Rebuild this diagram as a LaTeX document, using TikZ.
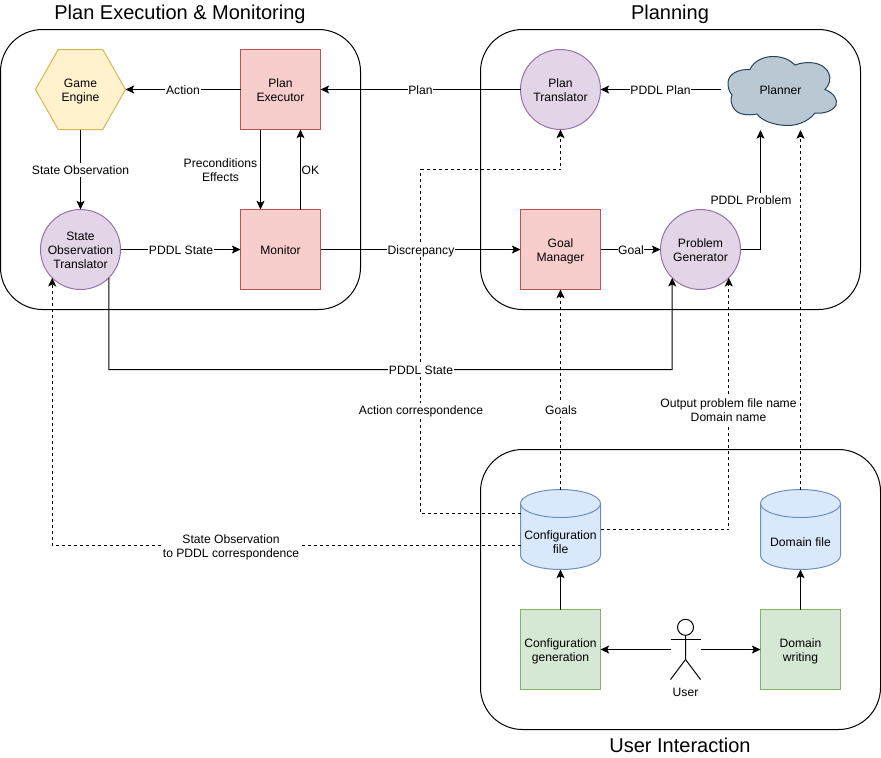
\documentclass[tikz,border=0pt]{standalone}
\usepackage{fontspec}
\setmainfont{Liberation Sans}
\usetikzlibrary{arrows.meta}

\definecolor{hexfill}{HTML}{FFF2CC}
\definecolor{hexline}{HTML}{D6B656}
\definecolor{redfill}{HTML}{F8CECC}
\definecolor{redline}{HTML}{B85450}
\definecolor{purplefill}{HTML}{E1D5E7}
\definecolor{purpleline}{HTML}{9673A6}
\definecolor{bluefill}{HTML}{DAE8FC}
\definecolor{blueline}{HTML}{6C8EBF}
\definecolor{greenfill}{HTML}{D5E8D4}
\definecolor{greenline}{HTML}{82B366}
\definecolor{cloudfill}{HTML}{BAC8D3}
\definecolor{cloudline}{HTML}{23445D}

\tikzset{
  base/.style={align=center, font=\fontsize{9.1}{10.5}\selectfont, inner sep=0pt, outer sep=0pt,
    execute at begin node=\rule{0pt}{8.8pt}, execute at end node=\rule[-2pt]{0pt}{2pt}},
  redbox/.style={base, draw=redline, fill=redfill, minimum width=60pt, minimum height=60pt},
  greenbox/.style={base, draw=greenline, fill=greenfill, minimum width=60pt, minimum height=60pt},
  translator/.style={base, circle, draw=purpleline, fill=purplefill, minimum size=60pt},
  plain/.style={base},
  group/.style={rounded corners=31.5pt},
  grouptitle/.style={inner sep=0pt, outer sep=0pt, font=\fontsize{15}{18}\selectfont},
  edgelabel/.style={base, fill=white, inner xsep=0.5pt},
  flow/.style={-{Stealth[length=6.5pt,width=6pt,inset=1.5pt]}},
  config/.style={flow, dash pattern=on 2.25pt off 2.25pt}
}

% same height and depth for text of several lines
\newcommand{\textlines}[1]{\rule{0pt}{8.8pt}#1\rule[-2pt]{0pt}{2pt}}

% drum outline of a data file, centred on the given point
\newcommand{\drawdrum}[1]{
  \begin{scope}[shift={(#1)}, draw=blueline]
    \draw[fill=bluefill] (-40,-26) .. controls (-40,-33.7) and (-22,-40) .. (0,-40)
      .. controls (22,-40) and (40,-33.7) .. (40,-26) -- (40,26)
      .. controls (40,33.7) and (22,40) .. (0,40)
      .. controls (-22,40) and (-40,33.7) .. (-40,26) -- cycle;
    \draw (-40,-26) .. controls (-40,-18.3) and (-22,-12) .. (0,-12)
      .. controls (22,-12) and (40,-18.3) .. (40,-26);
  \end{scope}
}

\begin{document}
\begin{tikzpicture}[x=0.75pt, y=-0.75pt, line width=0.75pt]
  \useasboundingbox (0,0) rectangle (881,757);

  % groups
  \draw[group] (0.5,29.5) rectangle (360.5,309.5);
  \draw[group] (480.5,29.5) rectangle (860.5,309.5);
  \draw[group] (480.5,449.5) rectangle (880.5,729.5);
  \node[grouptitle] (titleexec) at (180,14.5) {Plan Execution \& Monitoring};
  \node[grouptitle] (titleplan) at (670,14.5) {Planning};
  \node[grouptitle] (titleuser) at (680,745) {User Interaction};

  % game engine, planner and data files have outlines of their own
  \draw[draw=hexline, fill=hexfill] (35.5,89.5) -- (58.2,49.5) -- (102.8,49.5)
    -- (125.5,89.5) -- (102.8,129.5) -- (58.2,129.5) -- cycle;
  \draw[draw=cloudline, fill=cloudfill] (728,83)
    .. controls (728,73) and (740,69) .. (750,69.5)
    .. controls (754,60) and (765,56.5) .. (773,56.5)
    .. controls (783,56.5) and (790,60) .. (795,65)
    .. controls (803,62) and (812,62) .. (818,64)
    .. controls (828,67) and (835,79) .. (825,89.5)
    .. controls (834,93) and (838,100) .. (836,105)
    .. controls (833,111) and (824,114) .. (815,113)
    .. controls (808,122) and (796,126) .. (786,125.5)
    .. controls (774,125) and (762,121) .. (757,114)
    .. controls (747,116) and (738,114) .. (735,110)
    .. controls (731,105) and (730,99) .. (732,95)
    .. controls (729,92) and (728,87) .. (728,83) -- cycle;
  \drawdrum{560.5,529.5}
  \drawdrum{800.5,529.5}

  % plan execution and monitoring
  \node[plain, minimum width=67.5pt, minimum height=60pt] (engine) at (80.5,89.5) {\textlines{Game\\Engine}};
  \node[redbox] (executor) at (280.5,89.5) {\textlines{Plan\\Executor}};
  \node[translator] (obstranslator) at (80.5,249.5) {\textlines{State\\Observation\\Translator}};
  \node[redbox] (monitor) at (280.5,249.5) {Monitor};

  % planning
  \node[translator] (plantranslator) at (560.5,89.5) {\textlines{Plan\\Translator}};
  \node[plain, minimum width=90pt, minimum height=60pt] (planner) at (780.5,89.5) {Planner};
  \node[redbox] (goalmanager) at (560.5,249.5) {\textlines{Goal\\Manager}};
  \node[translator] (generator) at (700.5,249.5) {\textlines{Problem\\Generator}};

  % user interaction
  \node[plain, minimum width=60pt, minimum height=60pt] (configfile) at (560.5,529.5) {};
  \node[plain, minimum width=60pt, minimum height=60pt] (domainfile) at (800.5,529.5) {};
  \node[plain] (configtext) at (560.5,541.8) {\textlines{Configuration\\file}};
  \node[plain] (domaintext) at (800.5,541.8) {Domain file};
  \node[greenbox] (configgen) at (560.5,649.5) {\textlines{Configuration\\generation}};
  \node[greenbox] (domainwriting) at (800.5,649.5) {\textlines{Domain\\writing}};
  \node[plain, minimum width=22.5pt, minimum height=45pt] (user) at (685.5,649.5) {};
  \node[plain] (userlabel) at (685.5,692) {User};
  \draw (685.5,627.3) circle (6pt);
  \draw (685.5,635.3) -- (685.5,659.5) -- (670.5,679.5);
  \draw (685.5,659.5) -- (700.5,679.5);
  \draw (670.5,639.5) -- (700.5,639.5);

  % free ends of connectors
  \coordinate (plannerleft) at (760.5,130);
  \coordinate (plannerright) at (800.5,130);
  \coordinate (executorleft) at (260.5,129.5);
  \coordinate (executorright) at (300.5,129.5);
  \coordinate (monitorleft) at (260.5,209.5);
  \coordinate (monitorright) at (300.5,209.5);
  \coordinate (configupper) at (520.5,513.5);
  \coordinate (configlower) at (520.5,545.5);
  \coordinate (configright) at (600.5,529.5);

  % solid connectors
  \draw[flow] (executor) -- (engine);
  \draw[flow] (plantranslator) -- (executor);
  \draw[flow] (planner) -- (plantranslator);
  \draw[flow] (engine) -- (obstranslator);
  \draw[flow] (executorleft) -- (monitorleft);
  \draw[flow] (monitorright) -- (executorright);
  \draw[flow] (obstranslator) -- (monitor);
  \draw[flow] (monitor) -- (goalmanager);
  \draw[flow] (goalmanager) -- (generator);
  \draw[flow] (generator) -| (plannerleft);
  \draw[flow] (obstranslator.-45) |- (672.2,369.5) -- (generator.-135);
  \draw[flow] (configgen) -- (configfile);
  \draw[flow] (domainwriting) -- (domainfile);
  \draw[flow] (user) -- (configgen);
  \draw[flow] (user) -- (domainwriting);

  % dashed connectors
  \draw[config] (configupper) -| (420.5,169.5) -| (plantranslator.south);
  \draw[config] (configfile) -- (goalmanager);
  \draw[config] (configright) -| (generator.-45);
  \draw[config] (domainfile) -- (plannerright);
  \draw[config] (configlower) -| (obstranslator.-135);

  % connector labels
  \node[edgelabel] (lblaction) at (183,89.5) {Action};
  \node[edgelabel] (lblplan) at (420.5,89.5) {Plan};
  \node[edgelabel] (lblpddlplan) at (660.5,89.5) {PDDL Plan};
  \node[edgelabel] (lblobs) at (80.5,170) {State Observation};
  \node[edgelabel] (lblprecond) at (220.5,170) {\textlines{Preconditions\\Effects}};
  \node[edgelabel] (lblok) at (310.5,170) {OK};
  \node[edgelabel] (lblpddlstate) at (181,249.5) {PDDL State};
  \node[edgelabel] (lbldiscrepancy) at (421,249.5) {Discrepancy};
  \node[edgelabel] (lblgoal) at (631,249.5) {Goal};
  \node[edgelabel] (lblproblem) at (751,200) {PDDL Problem};
  \node[edgelabel] (lblstate) at (421,369.5) {PDDL State};
  \node[edgelabel] (lblactioncorr) at (421,410) {Action correspondence};
  \node[edgelabel] (lblgoals) at (561,410) {Goals};
  \node[edgelabel] (lbloutput) at (728.5,410) {\textlines{Output problem file name\\Domain name}};
  \node[edgelabel] (lblobscorr) at (231,545.5) {\textlines{State Observation\\to PDDL correspondence}};
\end{tikzpicture}
\end{document}
